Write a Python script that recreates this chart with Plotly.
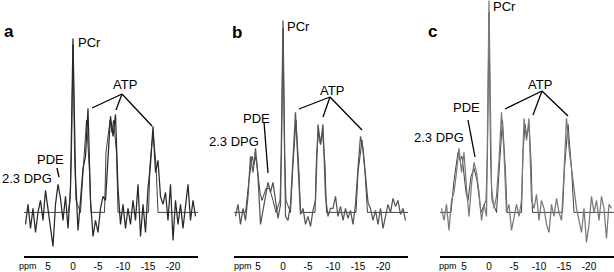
import plotly.graph_objects as go

# chemical shift grid (ppm), shared by the three spectra
ppm = [9.5 - 0.5 * i for i in range(69)]

spec_a = [-0.3, 0.2, -0.4, 0.1, -0.5, 0.0, 0.3, -0.2, 0.55, 0.1,
          -0.3, -0.85, 0.2, 0.7, 0.35, -0.2, 0.4, -0.4, 0.6, 4.35,
          0.9, -0.45, 0.3, 1.1, 1.4, 2.6, 0.3, -0.6, -0.2, -0.5,
          0.1, 0.4, 0.3, 1.5, 2.4, 1.9, 2.45, 0.6, -0.3, 0.2,
          -0.4, 0.1, -0.3, 0.3, -0.2, 0.7, -0.6, 0.2, -0.5, 0.6,
          1.2, 2.15, 1.0, 1.3, 0.4, 0.2, 0.5, -0.2, 0.7, -0.7,
          0.3, -0.3, 0.2, -0.4, 0.1, 0.7, -0.2, 0.3, -0.1]

spec_b = [-0.1, 0.2, -0.3, 0.1, -0.2, 0.4, 1.4, 1.0, 1.6, 0.9,
          -0.3, 0.1, 0.4, 0.75, 0.5, 0.75, 0.3, -0.15, 0.2, 4.8,
          -0.1, -0.2, 0.2, 1.4, 2.5, 1.2, -0.05, 0.1, -0.3, -0.1,
          -0.35, 0.05, 0.3, 2.2, 1.7, 2.2, 0.4, -0.1, 0.1, 0.1,
          0.4, -0.1, 0.15, -0.2, 0.1, -0.15, 0.05, -0.3, 0.2, 1.1,
          1.9, 1.6, 0.9, 0.25, 0.1, -0.2, 0.05, -0.3, 0.1, -0.4,
          -0.1, 0.2, 0.0, 0.35, 0.15, 0.3, -0.05, 0.1, -0.2]

spec_c = [0.1, -0.2, 0.2, -0.45, 0.3, 0.5, 1.0, 1.6, 1.0, 1.5,
          0.6, -0.1, 0.7, 1.25, 1.0, 0.5, -0.2, 0.2, -0.1, 5.3,
          0.6, 0.1, 0.4, 1.3, 2.5, 1.5, 0.0, 0.2, -0.45, -0.1,
          0.2, -0.1, 0.3, 2.35, 1.8, 2.35, 0.3, 0.1, 0.45, -0.2,
          0.3, 0.1, -0.3, -0.5, 0.2, -0.1, 0.35, 0.0, -0.2, 1.0,
          2.35, 1.6, 1.1, 0.5, 0.1, -0.2, -0.5, 0.1, -0.75, -0.3,
          0.4, 0.0, 0.3, -0.2, 0.4, 0.1, -0.65, 0.2, 0.1]

# fitted curves (polyline vertices)
fit_a_x = [9.8, 1.0, 0.6, 0.3, 0.0, -0.3, -0.6, -1.5, -2.0, -2.7, -3.3, -3.6,
           -6.3, -6.6, -7.4, -7.8, -8.1, -8.7, -9.0, -15.1, -15.4, -16.0, -16.6, -17.0, -25.0]
fit_a_y = [0, 0, 0.3, 1.5, 4.2, 1.5, 0.3, 0, 1.0, 2.3, 1.0, 0,
           0, 1.5, 2.3, 2.0, 2.3, 1.5, 0, 0, 1.2, 2.0, 1.2, 0, 0]
fit_b_x = [9.8, 7.5, 6.8, 6.2, 5.8, 5.4, 4.6, 4.2, 3.4, 2.7, 2.0, 1.4, 0.6, 0.3, 0.0, -0.3, -0.6,
           -1.5, -2.0, -2.6, -3.2, -3.5, -6.4, -6.7, -7.1, -7.5, -7.9, -8.4, -8.7,
           -14.6, -15.0, -15.8, -16.4, -16.9, -25.0]
fit_b_y = [0, 0, 0.8, 1.4, 1.2, 1.4, 0.5, 0.3, 0.6, 0.6, 0.3, 0, 0.3, 1.5, 4.6, 1.5, 0.3,
           0, 1.2, 2.3, 1.0, 0, 0, 1.4, 2.0, 1.7, 2.0, 1.2, 0,
           0, 1.0, 1.8, 1.0, 0, 0]
fit_c_x = [9.8, 7.6, 7.0, 6.2, 5.8, 5.4, 4.6, 4.2, 3.6, 3.0, 2.4, 1.6, 0.6, 0.3, 0.0, -0.3, -0.6,
           -1.5, -2.1, -2.7, -3.3, -3.6, -6.5, -6.8, -7.2, -7.6, -8.0, -8.4, -8.7,
           -14.7, -15.1, -15.8, -16.5, -17.0, -25.0]
fit_c_y = [0, 0, 0.8, 1.5, 1.3, 1.4, 0.5, 0.3, 0.9, 1.1, 0.8, 0, 0.3, 1.5, 5.0, 1.5, 0.3,
           0, 1.2, 2.3, 1.0, 0, 0, 1.5, 2.2, 1.9, 2.2, 1.3, 0,
           0, 1.1, 2.2, 1.1, 0, 0]

tick_vals = [5, 0, -5, -10, -15, -20]
tick_text = ["5", "0", "-5", "-10", "-15", "-20"]
panel_letters = ["a", "b", "c"]
peak_labels = ["PCr", "ATP", "PDE", "2.3 DPG"]

W, H = 614, 272
MB = 16
PH = H - MB

def px(x):
    return x / W

def py(y):
    return (PH - y) / PH

domains = [(24, 198), (234, 408), (440, 614)]
specs = [spec_a, spec_b, spec_c]
fits = [(fit_a_x, fit_a_y), (fit_b_x, fit_b_y), (fit_c_x, fit_c_y)]
spec_colors = ["#2a2a2a", "#555555", "#7a7a7a"]

fig = go.Figure()
layout = dict(
    width=W, height=H, margin=dict(l=0, r=0, t=0, b=MB),
    paper_bgcolor="white", plot_bgcolor="white", showlegend=False,
    font=dict(family="Arial, Liberation Sans, sans-serif", color="black"),
)
for i, (d0, d1) in enumerate(domains):
    xa = "x" if i == 0 else f"x{i+1}"
    ya = "y" if i == 0 else f"y{i+1}"
    fig.add_trace(go.Scatter(x=fits[i][0], y=fits[i][1], mode="lines",
                             line=dict(color="#111111", width=0.8),
                             xaxis=xa, yaxis=ya, hoverinfo="skip"))
    fig.add_trace(go.Scatter(x=ppm, y=specs[i], mode="lines",
                             line=dict(color=spec_colors[i], width=1.25),
                             xaxis=xa, yaxis=ya, hoverinfo="skip"))
    key = "" if i == 0 else str(i + 1)
    layout["xaxis" + key] = dict(
        domain=[px(d0), px(d1)], range=[9.8, -25], anchor=ya,
        showline=True, linecolor="black", linewidth=2, showgrid=False,
        zeroline=False, ticks="", tickvals=tick_vals, ticktext=tick_text,
        tickfont=dict(size=10, color="black"), fixedrange=True)
    layout["yaxis" + key] = dict(
        domain=[0, 1], range=[-1.09, 5.31], anchor=xa, visible=False,
        showgrid=False, zeroline=False, fixedrange=True)
fig.update_layout(**layout)

def text(x, y, s, size=13, bold=False, xanchor="left"):
    fig.add_annotation(x=px(x), y=py(y), xref="paper", yref="paper",
                       text=f"<b>{s}</b>" if bold else s, showarrow=False,
                       xanchor=xanchor, yanchor="middle",
                       font=dict(size=size, color="black"))

def seg(x0, y0, x1, y1):
    fig.add_shape(type="line", xref="paper", yref="paper",
                  x0=px(x0), y0=py(y0), x1=px(x1), y1=py(y1),
                  line=dict(color="black", width=1.3))

# per-panel annotation positions (pixels)
ann = [
    dict(letter=(2, 31), pcr=(76, 42), atp=(111, 84), apex=(122, 94),
         atp_ends=[(92, 108), (116, 110), (152, 126)],
         pde=(35, 159), pde_line=((57, 168), (59, 177)), dpg=(0, 178), ppm=(17, 266)),
    dict(letter=(230, 32), pcr=(285, 26), atp=(318, 90), apex=(330, 97),
         atp_ends=[(299, 109), (323, 117), (362, 130)],
         pde=(241, 118), pde_line=((264, 122), (268, 173)), dpg=(207, 141), ppm=(232, 266)),
    dict(letter=(426, 31), pcr=(491, 6), atp=(526, 84), apex=(542, 91),
         atp_ends=[(505, 109), (533, 115), (568, 116)],
         pde=(451, 107), pde_line=((468, 120), (475, 157)), dpg=(412, 137), ppm=(437, 266)),
]
for i, a in enumerate(ann):
    text(*a["letter"], panel_letters[i], size=17, bold=True)
    text(*a["pcr"], peak_labels[0])
    text(*a["atp"], peak_labels[1])
    for e in a["atp_ends"]:
        seg(a["apex"][0], a["apex"][1], e[0], e[1])
    text(*a["pde"], peak_labels[2])
    seg(*a["pde_line"][0], *a["pde_line"][1])
    text(*a["dpg"], peak_labels[3])
    text(*a["ppm"], "ppm", size=9)

fig.write_html("out.html", config={"displayModeBar": False},
               post_script="document.body.style.margin='0';document.body.style.overflow='hidden';")
